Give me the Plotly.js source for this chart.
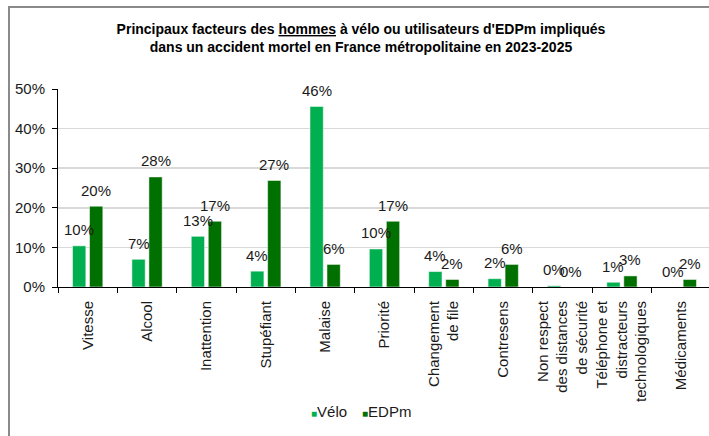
<!DOCTYPE html>
<html>
<head>
<meta charset="utf-8">
<script src="https://cdn.plot.ly/plotly-3.0.1.min.js"></script>
<style>
html,body{margin:0;padding:0;overflow:hidden;background:#fff;width:709px;height:436px;}
#wrap{position:relative;width:709px;height:436px;overflow:hidden;}
#chart{position:absolute;left:0;top:0;width:720px;height:436px;}
#frame{position:absolute;left:8px;top:6px;width:900px;height:600px;border-left:2px solid #8a8a8a;border-top:2px solid #8a8a8a;pointer-events:none;}
</style>
</head>
<body>
<div id="wrap"><div id="chart"></div><div id="frame"></div></div>
<script>
const categories = ["Vitesse","Alcool","Inattention","Stupéfiant","Malaise","Priorité","Changement<br>de file","Contresens","Non respect<br>des distances<br>de sécurité","Téléphone et<br>distracteurs<br>technologiques","Médicaments"];
const veloValues = [10.4, 7.0, 12.8, 4.0, 45.6, 9.6, 3.9, 2.1, 0.3, 1.2, 0.0];
const edpmValues = [20.4, 27.8, 16.6, 26.9, 5.7, 16.6, 1.9, 5.7, 0.0, 2.8, 1.9];
const seriesNames = ["Vélo", "EDPm"];
const colors = ["#00B050", "#007000"];

const catPx = 653 / categories.length;
const barW = 13.3, halfGap = 8.5;
const wData = barW / catPx;
const offV = -halfGap / catPx - wData / 2;
const offE = halfGap / catPx - wData / 2;

const traces = [
  {type:'bar', x:categories, y:veloValues, name:seriesNames[0], width:wData, offset:offV,
   marker:{color:colors[0], line:{color:'rgba(255,255,255,0.5)', width:1}}, showlegend:false, hoverinfo:'y'},
  {type:'bar', x:categories, y:edpmValues, name:seriesNames[1], width:wData, offset:offE,
   marker:{color:colors[1], line:{color:'rgba(255,255,255,0.5)', width:1}}, showlegend:false, hoverinfo:'y'}
];
seriesNames.forEach((n,i)=>{
  traces.push({type:'scatter', mode:'markers', x:[null], y:[null],
    name:'<span style="color:'+colors[i]+';font-size:10px">■</span>'+n,
    marker:{symbol:'square', size:1, color:'rgba(0,0,0,0)'}});
});
// spacer entry so the last legend label is not clipped
traces.push({type:'scatter', mode:'markers', x:[null], y:[null], name:' ',
  marker:{symbol:'square', size:1, color:'rgba(0,0,0,0)'}});

const annotations = [];
function addLabels(vals, shift){
  vals.forEach((v,i)=>{
    annotations.push({x:categories[i], y:v, xref:'x', yref:'y', text:Math.round(v)+'%', showarrow:false,
      xshift:shift, yshift:16, yanchor:'middle', xanchor:'center', font:{family:'Arial, Liberation Sans, sans-serif', size:15, color:'#1a1a1a'}});
  });
}
addLabels(veloValues, -halfGap);
addLabels(edpmValues, halfGap);

const layout = {
  width:720, height:436,
  margin:{l:58, r:9, t:89, b:149},
  paper_bgcolor:'#fff', plot_bgcolor:'#fff',
  font:{family:'Arial, Liberation Sans, sans-serif', size:15, color:'#1a1a1a'},
  title:{text:'<b>Principaux facteurs des <u>hommes</u> à vélo ou utilisateurs d\'EDPm impliqués<br>dans un accident mortel en France métropolitaine en 2023-2025</b>',
    font:{family:'Arial, Liberation Sans, sans-serif', size:14, color:'#000'},
    x:361/720, xanchor:'center', xref:'container', y:1-34/436, yanchor:'top', yref:'container'},
  xaxis:{type:'category', tickangle:-90, showline:true, linecolor:'#000', linewidth:1,
    ticks:'outside', tickson:'boundaries', ticklen:5, tickcolor:'#000', showgrid:false, ticklabelstandoff:7,
    tickfont:{size:15, color:'#1a1a1a'}, range:[-0.5, categories.length-0.5], fixedrange:true},
  yaxis:{range:[0,50], dtick:10, ticksuffix:'%', showline:true, linecolor:'#000', linewidth:1,
    ticks:'outside', ticklen:5, tickcolor:'#000', gridcolor:'#d9d9d9', gridwidth:1.5, zeroline:false, ticklabelstandoff:4,
    tickfont:{size:15, color:'#1a1a1a'}, fixedrange:true},
  legend:{orientation:'h', x:(347.5-58)/653, xanchor:'center', y:(287-411)/198, yanchor:'middle',
    font:{size:15, color:'#1a1a1a'}, bgcolor:'rgba(0,0,0,0)', itemwidth:30, entrywidth:6},
  annotations:annotations,
  showlegend:true
};

Plotly.newPlot('chart', traces, layout, {displayModeBar:false, staticPlot:true});
</script>
</body>
</html>
